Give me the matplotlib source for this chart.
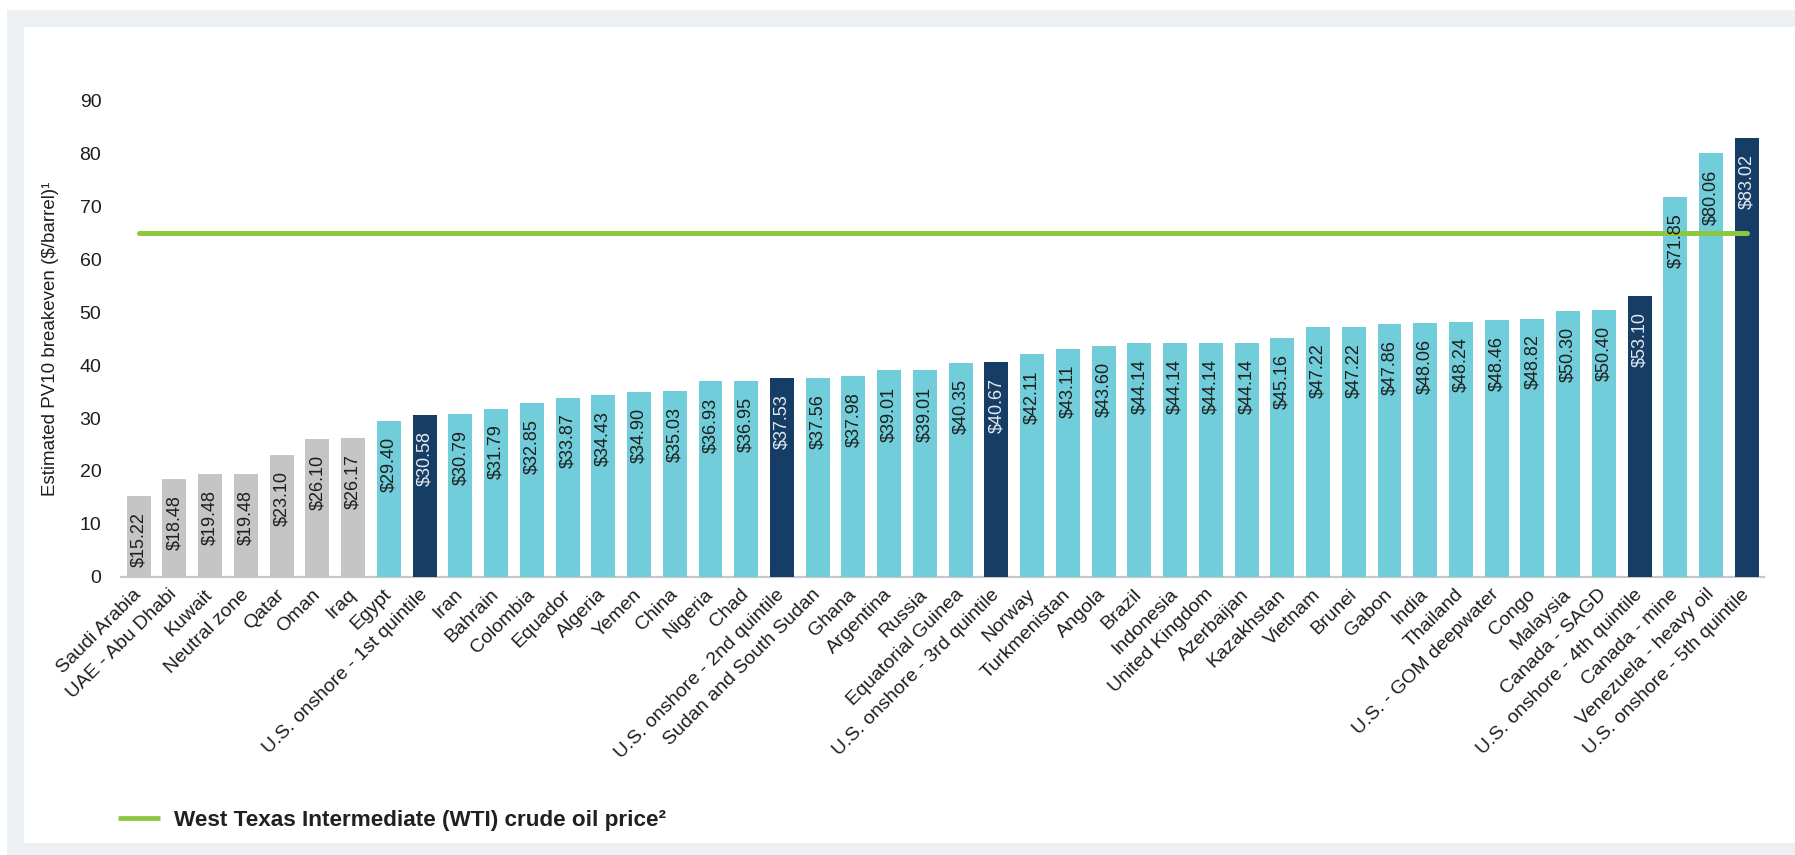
import matplotlib
matplotlib.use("Agg")
import matplotlib.pyplot as plt
from matplotlib import font_manager
from matplotlib.patches import Rectangle

# ─────────────────────────────────────────────
# DONNÉES
# ─────────────────────────────────────────────
pays = [
    'Saudi Arabia', 'UAE - Abu Dhabi', 'Kuwait', 'Neutral zone', 'Qatar', 'Oman', 'Iraq',
    'Egypt', 'U.S. onshore - 1st quintile', 'Iran', 'Bahrain', 'Colombia', 'Equador',
    'Algeria', 'Yemen', 'China', 'Nigeria', 'Chad', 'U.S. onshore - 2nd quintile',
    'Sudan and South Sudan', 'Ghana', 'Argentina', 'Russia', 'Equatorial Guinea',
    'U.S. onshore - 3rd quintile', 'Norway', 'Turkmenistan', 'Angola', 'Brazil',
    'Indonesia', 'United Kingdom', 'Azerbaijan', 'Kazakhstan', 'Vietnam', 'Brunei',
    'Gabon', 'India', 'Thailand', 'U.S. - GOM deepwater', 'Congo', 'Malaysia',
    'Canada - SAGD', 'U.S. onshore - 4th quintile', 'Canada - mine',
    'Venezuela - heavy oil', 'U.S. onshore - 5th quintile',
]
breakeven = [
    15.22, 18.48, 19.48, 19.48, 23.10, 26.10, 26.17,
    29.40, 30.58, 30.79, 31.79, 32.85, 33.87,
    34.43, 34.90, 35.03, 36.93, 36.95, 37.53,
    37.56, 37.98, 39.01, 39.01, 40.35,
    40.67, 42.11, 43.11, 43.60, 44.14,
    44.14, 44.14, 44.14, 45.16, 47.22, 47.22,
    47.86, 48.06, 48.24, 48.46, 48.82, 50.30,
    50.40, 53.10, 71.85,
    80.06, 83.02,
]
golfe = ['Saudi Arabia', 'UAE - Abu Dhabi', 'Kuwait', 'Neutral zone', 'Qatar', 'Oman', 'Iraq']
wti_prix = 65.0

y_ticks = [0, 10, 20, 30, 40, 50, 60, 70, 80, 90]

# ─────────────────────────────────────────────
# STYLE
# ─────────────────────────────────────────────
GRIS = '#c4c5c4'
CYAN = '#70cdd9'
MARINE = '#163d66'
VERT = '#8dc63f'
FOND = '#edf1f4'
TEXTE = '#1e1e1e'

noms_polices = {f.name for f in font_manager.fontManager.ttflist}
POLICE = 'Liberation Sans' if 'Liberation Sans' in noms_polices else 'DejaVu Sans'
if 'Liberation Sans Narrow' in noms_polices:
    POLICE_LEG, TAILLE_LEG = 'Liberation Sans Narrow', 19
else:
    POLICE_LEG, TAILLE_LEG = POLICE, 16.2
plt.rcParams['font.family'] = [POLICE, 'DejaVu Sans']

W, H = 1795, 855
fig = plt.figure(figsize=(W / 100, H / 100), dpi=100)
fig.patch.set_facecolor('white')

# cadre gris clair + panneau blanc
fig.patches.append(Rectangle((7 / W, 0), 1 - 7 / W, (H - 10) / H,
                             transform=fig.transFigure, facecolor=FOND, edgecolor='none', zorder=-2))
fig.patches.append(Rectangle((24 / W, 12 / H), 1 - 24 / W, (843 - 27) / H,
                             transform=fig.transFigure, facecolor='white', edgecolor='none', zorder=-1))

ax = fig.add_axes([120.7 / W, (H - 576.7) / H, (1764 - 120.7) / W, (576.7 - 100.8) / H])
ax.set_facecolor('none')

couleurs = []
for nom in pays:
    if nom in golfe:
        couleurs.append(GRIS)
    elif nom.startswith('U.S. onshore'):
        couleurs.append(MARINE)
    else:
        couleurs.append(CYAN)

x = list(range(len(pays)))
ax.bar(x, breakeven, width=0.67, color=couleurs, zorder=2)

# valeurs dans les barres
for i, v in enumerate(breakeven):
    c = '#e4e9ef' if couleurs[i] == MARINE else TEXTE
    ax.annotate(r'\$' + f'{v:.2f}', (i, v), xytext=(0, -16), textcoords='offset pixels',
                rotation=90, ha='center', va='top', fontsize=13, color=c, zorder=4)

# prix WTI
ax.plot([x[0], x[-1]], [wti_prix, wti_prix], color=VERT, lw=3.6,
        solid_capstyle='round', zorder=3, label='West Texas Intermediate (WTI) crude oil price²')

ax.set_xlim(-0.504, 45.48)
ax.set_ylim(0, 90)
ax.set_yticks(y_ticks)
ax.tick_params(axis='y', length=0, pad=14, labelsize=14, labelcolor=TEXTE)
ax.set_xticks(x)
ax.set_xticklabels(pays, rotation=45, ha='right', va='center', rotation_mode='anchor',
                   fontsize=14, color=TEXTE)
ax.tick_params(axis='x', length=0, pad=11)

for s in ['top', 'right', 'left']:
    ax.spines[s].set_visible(False)
ax.spines['bottom'].set_color('#c8c8c8')
ax.spines['bottom'].set_linewidth(1.6)
ax.spines['bottom'].set_zorder(1)

fig.text(51 / W, (H - 338.7) / H, r'Estimated PV10 breakeven (\$/barrel)¹',
         rotation=90, ha='center', va='center', fontsize=13.5, color=TEXTE)

taille_px = TAILLE_LEG * 100 / 72
leg = ax.legend(loc='center left', bbox_to_anchor=(118 / W, 35 / H), bbox_transform=fig.transFigure,
                frameon=False, borderpad=0, borderaxespad=0,
                handlelength=42 / taille_px, handletextpad=14 / taille_px,
                prop={'family': POLICE_LEG, 'weight': 'bold', 'size': TAILLE_LEG})
for t in leg.get_texts():
    t.set_color('#231f20')
for l in leg.get_lines():
    l.set_solid_capstyle('butt')
    l.set_linewidth(3.4)

fig.savefig('out.png', dpi=100)
